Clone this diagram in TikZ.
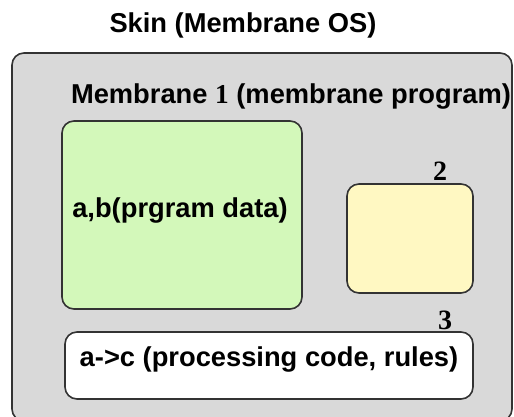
\documentclass[tikz,border=0pt]{standalone}
\usepackage{fontspec}
\setmainfont{Liberation Sans}
\newfontfamily\numfont{Liberation Serif}
\usepackage{xcolor}
\usetikzlibrary{positioning}
\definecolor{skingray}{HTML}{D9D9D9}
\definecolor{datagreen}{HTML}{D3F8BA}
\definecolor{memyellow}{HTML}{FFF8C2}
\definecolor{edgegray}{HTML}{333333}

\begin{document}
\begin{tikzpicture}[x=1pt, y=-1pt,
    membrane/.style={draw=edgegray, line width=1.6pt, rounded corners=12pt},
    txt/.style={inner sep=0pt, font=\fontsize{27.3}{30}\selectfont\bfseries},
    num/.style={inner sep=0pt, font=\fontsize{28}{30}\selectfont\numfont\bfseries}]
  \useasboundingbox (0,0) rectangle (514,417);
  \draw[membrane, fill=skingray] (12,53) rectangle (512,421);
  \draw[membrane, fill=datagreen] (62,121) rectangle (302,309);
  \draw[membrane, fill=memyellow] (347,184) rectangle (473,293);
  \draw[membrane, fill=white] (65,332) rectangle (473,399);
  \node[txt] (skin) at (243,25) {Skin (Membrane OS)};
  \node[txt] (mem1) at (291,97) {Membrane {\numfont 1} (membrane program)};
  \node[txt] (data) at (180,211) {a,b(prgram data)};
  \node[num] (lbl2) at (440,171) {2};
  \node[num] (lbl3) at (445,320) {3};
  \node[txt] (rules) at (269,359) {a->c (processing code, rules)};
\end{tikzpicture}
\end{document}
